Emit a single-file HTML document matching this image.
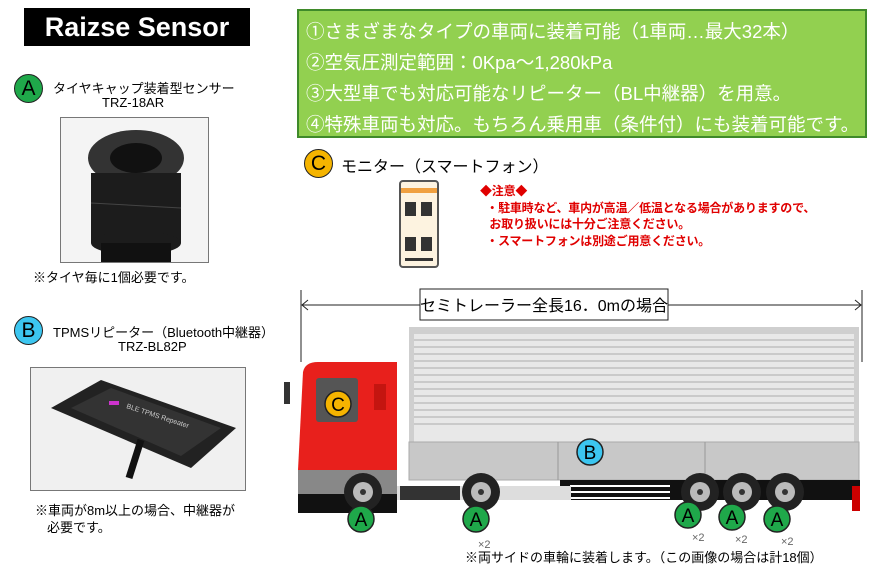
<!DOCTYPE html>
<html><head><meta charset="utf-8"><style>
body{margin:0;width:879px;height:568px;background:#fff;position:relative;overflow:hidden;font-family:"Liberation Sans","Noto Sans CJK JP",sans-serif}
.t{position:absolute;white-space:nowrap;color:#000}
.c{position:absolute;border-radius:50%;border:1.5px solid #222;text-align:center;font-family:"Liberation Sans",sans-serif;color:#000}
</style></head><body>
<div style="position:absolute;left:24px;top:8px;width:226px;height:38px;background:#000;color:#fff;font:bold 27px 'Liberation Sans',sans-serif;line-height:38px;text-align:center;letter-spacing:0px">Raizse Sensor</div>

<div class="c" style="left:14px;top:74px;width:27px;height:27px;background:#1fa84a;font-size:21px;line-height:27px">A</div>
<div class="t" style="left:53px;top:78px;font-size:13px">タイヤキャップ装着型センサー</div>
<div class="t" style="left:102px;top:95px;font-size:13px">TRZ-18AR</div>
<div style="position:absolute;left:60px;top:117px;width:147px;height:144px;border:1px solid #777;background:#f4f4f4;overflow:hidden">
<svg width="147" height="144"><ellipse cx="75" cy="40" rx="48" ry="28" fill="#333"/><ellipse cx="75" cy="40" rx="26" ry="15" fill="#111"/><rect x="30" y="55" width="90" height="70" fill="#1c1c1c"/><ellipse cx="75" cy="125" rx="45" ry="12" fill="#1c1c1c"/><rect x="40" y="125" width="70" height="19" fill="#111"/><line x1="30" y1="85" x2="120" y2="90" stroke="#444"/></svg></div>
<div class="t" style="left:33px;top:267px;font-size:13px">※タイヤ毎に1個必要です。</div>

<div class="c" style="left:14px;top:316px;width:27px;height:27px;background:#3cc6f0;font-size:21px;line-height:27px">B</div>
<div class="t" style="left:53px;top:322px;font-size:13px">TPMSリピーター（Bluetooth中継器）</div>
<div class="t" style="left:118px;top:339px;font-size:13px">TRZ-BL82P</div>
<div style="position:absolute;left:30px;top:367px;width:214px;height:122px;border:1px solid #777;background:#f0f0f0;overflow:hidden">
<svg width="214" height="122"><polygon points="20,40 70,12 205,60 160,100" fill="#222"/><polygon points="40,40 80,20 190,60 150,88" fill="#333"/><rect x="78" y="33" width="10" height="4" fill="#c3c"/><text x="95" y="40" fill="#ccc" font-size="7" transform="rotate(18 95 40)">BLE TPMS Repeater</text><path d="M110 72 L98 110" stroke="#111" stroke-width="7"/></svg></div>
<div class="t" style="left:35px;top:500px;font-size:13px">※車両が8m以上の場合、中継器が</div>
<div class="t" style="left:47px;top:517px;font-size:13px">必要です。</div>

<div style="position:absolute;left:297px;top:9px;width:566px;height:125px;background:#92d050;border:2px solid #3f8a2a"></div>
<div class="t" style="left:306px;top:16px;font-size:18.5px;color:#fff;line-height:31px">①さまざまなタイプの車両に装着可能（1車両…最大32本）<br>②空気圧測定範囲：0Kpa～1,280kPa<br>③大型車でも対応可能なリピーター（BL中継器）を用意。<br>④特殊車両も対応。もちろん乗用車（条件付）にも装着可能です。</div>

<div class="c" style="left:304px;top:149px;width:27px;height:27px;background:#f5b400;font-size:21px;line-height:27px">C</div>
<div class="t" style="left:341px;top:153px;font-size:16px">モニター（スマートフォン）</div>
<div style="position:absolute;left:399px;top:180px;width:36px;height:84px;border:2px solid #555;border-radius:4px;background:#fdf3e0">
<div style="margin-top:6px;height:5px;background:#f0a040"></div>
<div style="position:absolute;left:4px;top:20px;width:11px;height:14px;background:#333"></div><div style="position:absolute;left:20px;top:20px;width:11px;height:14px;background:#333"></div>
<div style="position:absolute;left:4px;top:55px;width:11px;height:14px;background:#333"></div><div style="position:absolute;left:20px;top:55px;width:11px;height:14px;background:#333"></div>
<div style="position:absolute;left:4px;top:76px;width:28px;height:3px;background:#333"></div></div>
<div class="t" style="left:480px;top:183px;font-size:12px;color:#e00000;font-weight:bold;line-height:16.5px;letter-spacing:-0.2px">◆注意◆<br>&nbsp;&nbsp;・駐車時など、車内が高温／低温となる場合がありますので、<br>&nbsp;&nbsp;&nbsp;お取り扱いには十分ご注意ください。<br>&nbsp;&nbsp;・スマートフォンは別途ご用意ください。</div>

<svg style="position:absolute;left:0;top:0" width="879" height="568">
<line x1="301" y1="290" x2="301" y2="362" stroke="#222"/><line x1="862" y1="290" x2="862" y2="362" stroke="#222"/>
<line x1="302" y1="305" x2="861" y2="305" stroke="#222"/>
<polyline points="308,300 302,305 308,310" fill="none" stroke="#222"/><polyline points="855,300 861,305 855,310" fill="none" stroke="#222"/>
<rect x="420" y="289" width="248" height="31" fill="#fff" stroke="#222"/>
<text x="544" y="311" text-anchor="middle" font-size="16" font-family="Liberation Sans,Noto Sans CJK JP,sans-serif">セミトレーラー全長16．0mの場合</text>
<rect x="409" y="327" width="450" height="120" fill="#cfcfcf"/>
<rect x="414" y="334" width="440" height="110" fill="#e8e8e8"/>
<g stroke="#b8b8b8" stroke-width="1.2">
<line x1="414" y1="340" x2="854" y2="340"/><line x1="414" y1="347" x2="854" y2="347"/><line x1="414" y1="354" x2="854" y2="354"/><line x1="414" y1="361" x2="854" y2="361"/><line x1="414" y1="368" x2="854" y2="368"/><line x1="414" y1="375" x2="854" y2="375"/><line x1="414" y1="382" x2="854" y2="382"/><line x1="414" y1="389" x2="854" y2="389"/><line x1="414" y1="396" x2="854" y2="396"/><line x1="414" y1="403" x2="854" y2="403"/><line x1="414" y1="410" x2="854" y2="410"/><line x1="414" y1="417" x2="854" y2="417"/><line x1="414" y1="424" x2="854" y2="424"/></g>
<rect x="409" y="442" width="450" height="38" fill="#c8c8c8" stroke="#aaa"/>
<line x1="558" y1="442" x2="558" y2="480" stroke="#999"/><line x1="705" y1="442" x2="705" y2="480" stroke="#999"/>
<rect x="560" y="480" width="300" height="20" fill="#111"/>
<g stroke="#fff" stroke-width="2"><line x1="570" y1="486" x2="670" y2="486"/><line x1="570" y1="492" x2="670" y2="492"/><line x1="570" y1="498" x2="670" y2="498"/></g>
<rect x="396" y="486" width="175" height="14" fill="#ddd"/>
<rect x="400" y="486" width="60" height="14" fill="#333"/>
<rect x="852" y="486" width="8" height="25" fill="#c00"/>
<path d="M303,372 Q305,362 318,362 L397,362 L397,470 L396,513 L298,513 L298,470 L303,372 Z" fill="#e8201c"/>
<rect x="316" y="378" width="42" height="44" fill="#555" rx="3"/>
<rect x="374" y="384" width="12" height="26" fill="#c41510"/>
<rect x="298" y="470" width="99" height="24" fill="#888"/>
<rect x="298" y="494" width="99" height="19" fill="#111"/>
<rect x="284" y="382" width="6" height="22" fill="#333"/>
<g fill="#222"><circle cx="363" cy="492" r="19"/><circle cx="481" cy="492" r="19"/><circle cx="700" cy="492" r="19"/><circle cx="742" cy="492" r="19"/><circle cx="785" cy="492" r="19"/></g>
<g fill="#bbb"><circle cx="363" cy="492" r="10"/><circle cx="481" cy="492" r="10"/><circle cx="700" cy="492" r="10"/><circle cx="742" cy="492" r="10"/><circle cx="785" cy="492" r="10"/></g>
<g fill="#333"><circle cx="363" cy="492" r="3"/><circle cx="481" cy="492" r="3"/><circle cx="700" cy="492" r="3"/><circle cx="742" cy="492" r="3"/><circle cx="785" cy="492" r="3"/></g>
<g stroke="#222" stroke-width="1.5">
<circle cx="338" cy="404" r="13" fill="#f5b400"/><circle cx="590" cy="452" r="13" fill="#3cc6f0"/>
<circle cx="361" cy="519" r="13" fill="#1fa84a"/><circle cx="476" cy="519" r="13" fill="#1fa84a"/><circle cx="688" cy="515" r="13" fill="#1fa84a"/><circle cx="732" cy="517" r="13" fill="#1fa84a"/><circle cx="777" cy="519" r="13" fill="#1fa84a"/></g>
<g font-family="Liberation Sans,sans-serif" font-size="19" text-anchor="middle" fill="#000">
<text x="338" y="411">C</text><text x="590" y="459">B</text><text x="361" y="526">A</text><text x="476" y="526">A</text><text x="688" y="522">A</text><text x="732" y="524">A</text><text x="777" y="526">A</text></g>
<g font-family="Liberation Sans,sans-serif" font-size="11" fill="#666"><text x="478" y="548">×2</text><text x="692" y="541">×2</text><text x="735" y="543">×2</text><text x="781" y="545">×2</text></g>
<text x="465" y="562" font-size="13" font-family="Liberation Sans,Noto Sans CJK JP,sans-serif">※両サイドの車輪に装着します。（この画像の場合は計18個）</text>
</svg>
</body></html>
